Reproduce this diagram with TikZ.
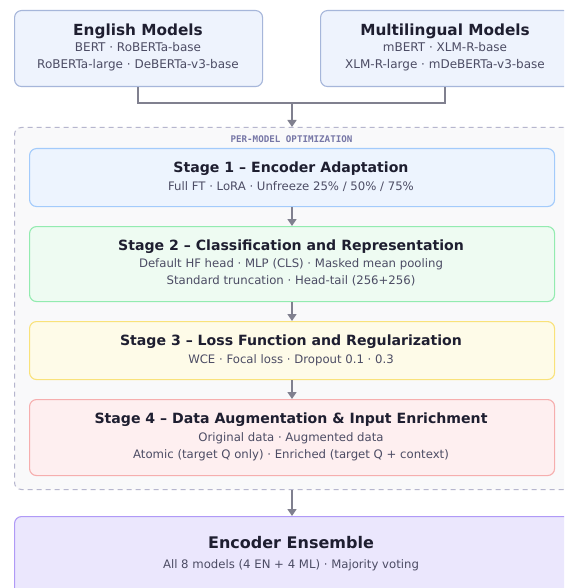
\documentclass[tikz,border=0pt]{standalone}
\usepackage{fontspec}
\setmainfont{DejaVu Sans}
\newfontfamily\monobold{DejaVu Sans Mono Bold}
\usetikzlibrary{arrows.meta}
\definecolor{titlecol}{HTML}{1E1E30}
\definecolor{subcol}{HTML}{4C4C64}
\definecolor{arrowcol}{HTML}{80808F}
\definecolor{topfill}{HTML}{EEF3FD}
\definecolor{topdraw}{HTML}{A6B6DA}
\definecolor{contfill}{HTML}{F9F9FA}
\definecolor{contdraw}{HTML}{B6B6CE}
\definecolor{labelcol}{HTML}{7676A6}
\definecolor{sonefill}{HTML}{EDF4FE}
\definecolor{sonedraw}{HTML}{A3CBFB}
\definecolor{stwofill}{HTML}{EEFBF2}
\definecolor{stwodraw}{HTML}{93EBB0}
\definecolor{sthreefill}{HTML}{FEFBE8}
\definecolor{sthreedraw}{HTML}{F9E27A}
\definecolor{sfourfill}{HTML}{FEEFF0}
\definecolor{sfourdraw}{HTML}{F6AEAE}
\definecolor{ensfill}{HTML}{EBE7FD}
\definecolor{ensdraw}{HTML}{B09AF6}
\tikzset{
  box/.style={draw, rounded corners=7pt, line width=1.1pt, anchor=north west, inner sep=0pt},
  ttl/.style={font=\bfseries\fontsize{14.1}{16}\selectfont, text=titlecol, inner sep=0pt, anchor=base},
  sub/.style={font=\fontsize{11.7}{13}\selectfont, text=subcol, inner sep=0pt, anchor=base},
  topttl/.style={font=\bfseries\fontsize{15.3}{17}\selectfont, text=titlecol, inner sep=0pt, anchor=base},
  topsub/.style={font=\fontsize{12}{13}\selectfont, text=subcol, inner sep=0pt, anchor=base},
  conn/.style={draw=arrowcol, line width=1.5pt},
  arr/.style={conn, -{Triangle[length=7pt,width=9pt]}},
}
\begin{document}
\begin{tikzpicture}[x=1pt,y=1pt]
\clip (0,0) rectangle (564,-588);
\fill[white] (0,0) rectangle (564,-588);
% top boxes
\node[box, fill=topfill, draw=topdraw, minimum width=248, minimum height=76] (eng) at (14,-10) {};
\node[box, fill=topfill, draw=topdraw, minimum width=250, minimum height=76] (ml) at (320,-10) {};
\node[topttl] (engt) at (138,-35.7) {English Models};
\node[topsub] (engs1) at (138,-51.7) {BERT · RoBERTa-base};
\node[topsub] (engs2) at (138,-68.3) {RoBERTa-large · DeBERTa-v3-base};
\node[topttl] (mlt) at (445,-35.7) {Multilingual Models};
\node[topsub] (mls1) at (445,-51.7) {mBERT · XLM-R-base};
\node[topsub] (mls2) at (445,-68.3) {XLM-R-large · mDeBERTa-v3-base};
% container
\node[box, fill=contfill, draw=contdraw, dashed, dash pattern=on 5pt off 4pt, line width=1pt, minimum width=556, minimum height=362] (cont) at (14,-127) {};
\node[font=\monobold\fontsize{9.2}{10}\selectfont, text=labelcol, inner sep=0pt, anchor=base] (lbl) at (291.5,-142.5) {PER-MODEL OPTIMIZATION};
% junction
\coordinate (jn) at (292,-103);
\draw[conn] (eng.south -| 138,0) |- (jn);
\draw[conn] (ml.south -| 445,0) |- (jn);
\draw[arr] (jn) -- (cont.north -| jn);
% stages
\node[box, fill=sonefill, draw=sonedraw, minimum width=525, minimum height=58] (s1) at (29,-148) {};
\node[ttl] (s1t) at (291,-172) {Stage 1 – Encoder Adaptation};
\node[sub] (s1s) at (291,-190) {Full FT · LoRA · Unfreeze 25\% / 50\% / 75\%};
\node[box, fill=stwofill, draw=stwodraw, minimum width=525, minimum height=75] (s2) at (29,-226) {};
\node[ttl] (s2t) at (291,-250) {Stage 2 – Classification and Representation};
\node[sub] (s2s1) at (291,-267.3) {Default HF head · MLP (CLS) · Masked mean pooling};
\node[sub] (s2s2) at (291,-284.3) {Standard truncation · Head-tail (256+256)};
\node[box, fill=sthreefill, draw=sthreedraw, minimum width=525, minimum height=58] (s3) at (29,-321) {};
\node[ttl] (s3t) at (291,-345) {Stage 3 – Loss Function and Regularization};
\node[sub] (s3s) at (291,-363.5) {WCE · Focal loss · Dropout 0.1 · 0.3};
\node[box, fill=sfourfill, draw=sfourdraw, minimum width=525, minimum height=76] (s4) at (29,-399) {};
\node[ttl] (s4t) at (291,-423.3) {Stage 4 – Data Augmentation \& Input Enrichment};
\node[sub] (s4s1) at (291,-441) {Original data · Augmented data};
\node[sub] (s4s2) at (291,-458.3) {Atomic (target Q only) · Enriched (target Q + context)};
\draw[arr] (s1.south -| jn) -- (s2.north -| jn);
\draw[arr] (s2.south -| jn) -- (s3.north -| jn);
\draw[arr] (s3.south -| jn) -- (s4.north -| jn);
% ensemble
\node[box, fill=ensfill, draw=ensdraw, minimum width=556, minimum height=90] (ens) at (14,-516) {};
\node[ttl, font=\bfseries\fontsize{16}{18}\selectfont] (enst) at (291,-548) {Encoder Ensemble};
\node[sub] (enss) at (291,-568.5) {All 8 models (4 EN + 4 ML) · Majority voting};
\draw[arr] (cont.south -| jn) -- (ens.north -| jn);
\end{tikzpicture}
\end{document}
